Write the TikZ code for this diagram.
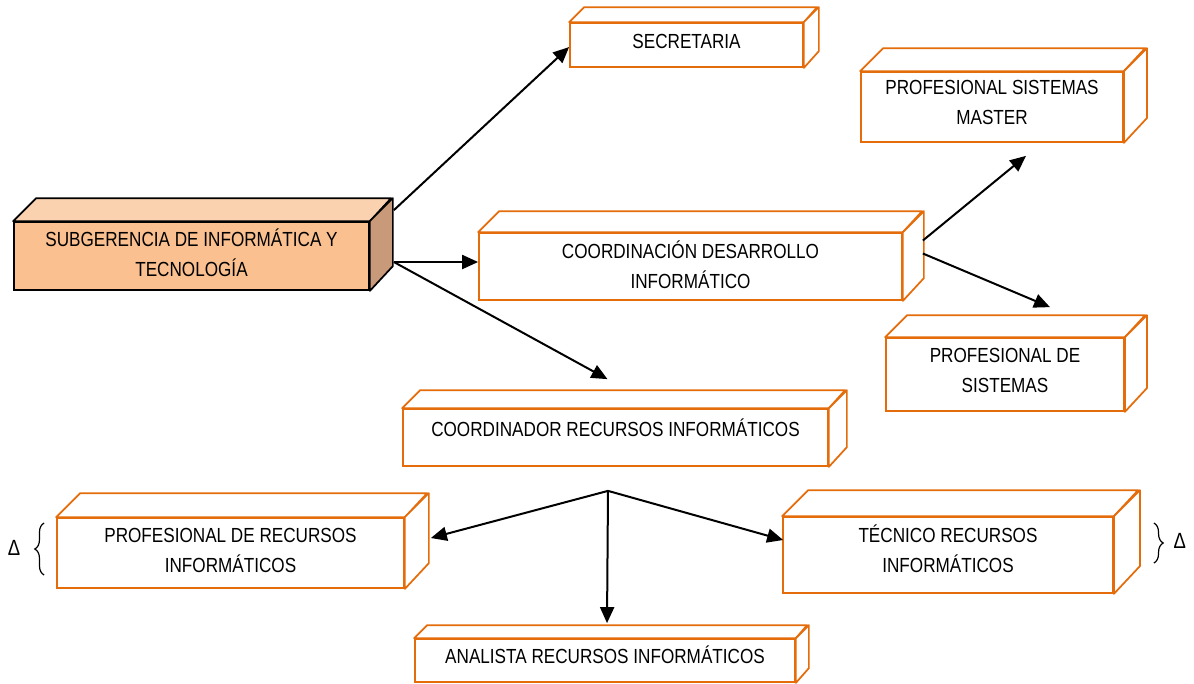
\documentclass[tikz,border=0pt]{standalone}
\usepackage{fontspec}
\setmainfont{Liberation Sans}[FakeStretch=0.84]
\usetikzlibrary{arrows.meta,calc,decorations.pathreplacing}
\definecolor{bor}{RGB}{228,108,10}
\definecolor{mfront}{RGB}{250,192,144}
\definecolor{mtop}{RGB}{251,210,176}
\definecolor{mside}{RGB}{200,154,122}
\tikzset{
  front/.style={draw=bor,line width=1.3pt,fill=white,inner sep=0pt,rectangle},
  face/.style={draw=bor,line width=1.3pt,line join=round,fill=white},
  mainbox/.style={draw=black,fill=mfront},
  maintop/.style={draw=black,fill=mtop},
  mainside/.style={draw=black,fill=mside},
  lbl/.style={align=center,inner sep=0pt,font=\fontsize{15.3}{22.5}\selectfont},
  arr/.style={line width=1.5pt,-{Triangle[length=12pt,width=10.5pt]}},
  brc/.style={line width=0.9pt,decorate,decoration={brace,amplitude=7pt}}
}
% #1 prefix style, #2 name, #3 x1, #4 y1, #5 x2, #6 y2, #7 depth, #8 text, #9 text shift
\newcommand\cub[9][]{%
  \node[front,#1box,minimum width={(#5-#3)*0.75pt},minimum height={(#6-#4)*0.75pt}] (#2) at ({(#3+#5)/2},{(#4+#6)/2}) {};
  \draw[face,#1top] (#2.north west) -- ++(#7,-#7) -- ++({#5-#3},0) -- (#2.north east) -- cycle;
  \draw[face,#1side] (#2.north east) -- ++(#7,-#7) -- ++(0,{#6-#4}) -- (#2.south east) -- cycle;
  \node[lbl] (#2-t) at ($(#2.center)+(0,#9)$) {#8};
}
\tikzset{box/.style={},top/.style={},side/.style={}}
\begin{document}
\begin{tikzpicture}[x=0.75pt,y=-0.75pt]
\useasboundingbox (0,0) rectangle (1194,683);
\cub[main]{sub}{14}{222}{369}{290}{23}{SUBGERENCIA DE INFORMÁTICA Y\\TECNOLOGÍA}{-3}
\cub{sec}{570}{23}{803}{67}{15}{SECRETARIA}{-4}
\cub{psm}{861}{72}{1123}{142}{23}{PROFESIONAL SISTEMAS\\MASTER}{-5}
\cub{cd}{479}{233}{902}{300}{21}{COORDINACIÓN DESARROLLO\\INFORMÁTICO}{-2}
\cub{pds}{886}{338}{1124}{411}{22}{PROFESIONAL DE\\SISTEMAS}{-4}
\cub{cr}{403}{409}{828}{466}{18}{COORDINADOR RECURSOS INFORMÁTICOS}{-10}
\cub{prr}{57}{518}{404}{588}{24}{PROFESIONAL DE RECURSOS\\INFORMÁTICOS}{-3}
\cub{tec}{783}{517}{1113}{593}{26}{TÉCNICO RECURSOS\\INFORMÁTICOS}{-6}
\cub{ana}{415}{639}{795}{682}{13}{ANALISTA RECURSOS INFORMÁTICOS}{-6}

\coordinate (s1) at ($(sub.north east)+(24,-11)$);
\coordinate (s2) at ($(sub.east)+(24,6)$);
\coordinate (c1) at ($(cd.east)+(20,-26)$);
\coordinate (c2) at ($(cd.east)+(20,-13)$);
\coordinate (hub) at ($(cr.south)+(-7.5,24)$);

\draw[arr] (s1) -- ($(sec.west)+(0,2)$);
\draw[arr] (s2) -- (s2 -| cd.west);
\draw[arr] (s2) -- ($(cr.north)+(-8,-29)$);
\draw[arr] (c1) -- ($(psm.south)+(34,13)$);
\draw[arr] (c2) -- ($(pds.north)+(45,-30)$);
\draw[arr] (hub) -- ($(prr.east)+(26,-15)$);
\draw[arr] (hub) -- ($(tec.west)+(1,-15)$);
\draw[arr] (hub) -- ($(ana.north)+(2,-15)$);

\coordinate (lb1) at ($(prr.west)+(-12,22)$);
\coordinate (lb2) at ($(prr.west)+(-12,-30)$);
\draw[brc] (lb1) -- (lb2);
\node[lbl,font=\fontsize{16.5}{20}\selectfont] (dl) at ($(prr.west)+(-42,-5)$) {Δ};
\coordinate (rb1) at ($(tec.east)+(40,-32)$);
\coordinate (rb2) at ($(tec.east)+(40,8)$);
\draw[brc] (rb1) -- (rb2);
\node[lbl,font=\fontsize{16.5}{20}\selectfont] (dr) at ($(tec.east)+(66,-14)$) {Δ};
\end{tikzpicture}
\end{document}
